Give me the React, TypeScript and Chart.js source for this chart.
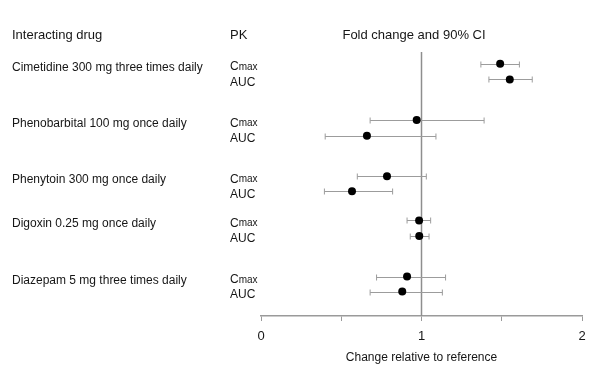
import React, { useEffect, useRef } from 'react';
import { Chart, registerables } from 'chart.js';

Chart.register(...registerables);

const FONT = '"Liberation Sans", Arial, Helvetica, sans-serif';

const drugs = [
  'Cimetidine 300 mg three times daily',
  'Phenobarbital 100 mg once daily',
  'Phenytoin 300 mg once daily',
  'Digoxin 0.25 mg once daily',
  'Diazepam 5 mg three times daily',
];
const pkParams = ['Cmax', 'AUC'];

// Row positions on the (hidden) row axis
const cmaxRow = [0, 3.57, 7.13, 9.94, 13.5];
const aucRow = [0.99, 4.57, 8.08, 10.92, 14.45];

// Fold change and 90% CI
const cmaxRatio = [1.49, 0.97, 0.785, 0.985, 0.91];
const cmaxLow = [1.37, 0.68, 0.6, 0.91, 0.72];
const cmaxHigh = [1.61, 1.39, 1.03, 1.057, 1.15];
const aucRatio = [1.55, 0.66, 0.567, 0.986, 0.88];
const aucLow = [1.42, 0.4, 0.395, 0.93, 0.68];
const aucHigh = [1.69, 1.09, 0.82, 1.047, 1.13];

const xTicks = [0, 0.5, 1, 1.5, 2];
const xTickLabels = ['0', '', '1', '', '2'];
const headers = ['Interacting drug', 'PK', 'Fold change and 90% CI'];
const xTitle = 'Change relative to reference';

const forestPlugin = {
  id: 'forest',
  beforeDatasetsDraw(chart: any) {
    const { ctx, chartArea, scales } = chart;
    const x = scales.x;
    const y = scales.y;
    ctx.save();
    // reference line at 1
    const x1 = x.getPixelForValue(1);
    ctx.strokeStyle = '#8e8e8e';
    ctx.lineWidth = 1.5;
    ctx.beginPath();
    ctx.moveTo(x1, chartArea.top);
    ctx.lineTo(x1, chartArea.bottom);
    ctx.stroke();
    // CI bars
    ctx.strokeStyle = '#9c9c9c';
    ctx.lineWidth = 1;
    const bar = (lo: number, hi: number, row: number) => {
      const py = Math.round(y.getPixelForValue(row)) + 0.5;
      const a = x.getPixelForValue(lo);
      const b = x.getPixelForValue(hi);
      ctx.beginPath();
      ctx.moveTo(a, py);
      ctx.lineTo(b, py);
      ctx.moveTo(a, py - 3);
      ctx.lineTo(a, py + 3);
      ctx.moveTo(b, py - 3);
      ctx.lineTo(b, py + 3);
      ctx.stroke();
    };
    drugs.forEach((_, i) => {
      bar(cmaxLow[i], cmaxHigh[i], cmaxRow[i]);
      bar(aucLow[i], aucHigh[i], aucRow[i]);
    });
    ctx.restore();
  },
  afterDraw(chart: any) {
    const { ctx, scales } = chart;
    const y = scales.y;
    ctx.save();
    ctx.fillStyle = '#161616';
    ctx.textBaseline = 'alphabetic';
    // headers
    ctx.font = `13px ${FONT}`;
    ctx.textAlign = 'left';
    ctx.fillText(headers[0], 12, 38.5);
    ctx.fillText(headers[1], 230, 38.5);
    ctx.textAlign = 'center';
    ctx.fillText(headers[2], 414, 38.5);
    // drug labels and PK labels
    drugs.forEach((d, i) => {
      const yc = y.getPixelForValue(cmaxRow[i]);
      const ya = y.getPixelForValue(aucRow[i]);
      ctx.textAlign = 'left';
      ctx.font = `12px ${FONT}`;
      ctx.fillText(d, 12, yc + 7);
      // Cmax
      const base = yc + 6.5;
      ctx.fillText(pkParams[0].charAt(0), 230, base);
      const w = ctx.measureText(pkParams[0].charAt(0)).width;
      ctx.font = `10px ${FONT}`;
      ctx.fillText(pkParams[0].slice(1), 230 + w, base - 0.5);
      // AUC
      ctx.font = `12px ${FONT}`;
      ctx.fillText(pkParams[1], 230, ya + 6.5);
    });
    ctx.restore();
  },
};

export default function App() {
  const ref = useRef<HTMLCanvasElement | null>(null);
  useEffect(() => {
    if (!ref.current) return;
    const points: { x: number; y: number }[] = [];
    drugs.forEach((_, i) => {
      points.push({ x: cmaxRatio[i], y: cmaxRow[i] });
      points.push({ x: aucRatio[i], y: aucRow[i] });
    });
    const chart = new Chart(ref.current, {
      type: 'scatter',
      data: {
        datasets: [
          {
            data: points,
            backgroundColor: '#000000',
            borderColor: '#000000',
            borderWidth: 0,
            pointRadius: 4,
            pointHoverRadius: 4,
          },
        ],
      },
      options: {
        animation: false,
        responsive: false,
        devicePixelRatio: 1,
        events: [],
        layout: { padding: { left: 261, right: 20, top: 52, bottom: 0 } },
        plugins: {
          legend: { display: false },
          tooltip: { enabled: false },
          title: { display: false },
        },
        scales: {
          x: {
            type: 'linear',
            min: 0,
            max: 2,
            afterBuildTicks: (scale: any) => {
              scale.ticks = xTicks.map((v) => ({ value: v }));
            },
            ticks: {
              autoSkip: false,
              maxRotation: 0,
              padding: 8,
              color: '#161616',
              font: { family: FONT, size: 13 },
              callback: (_v: any, idx: number) => xTickLabels[idx],
            },
            grid: {
              display: true,
              drawOnChartArea: false,
              drawTicks: true,
              tickLength: 5,
              color: '#9a9a9a',
              lineWidth: 1,
            },
            border: { display: true, color: '#9a9a9a', width: 1.5 },
            title: {
              display: true,
              text: xTitle,
              color: '#161616',
              font: { family: FONT, size: 12 },
              padding: { top: -1.8, bottom: 16.8 },
            },
          },
          y: {
            type: 'linear',
            display: false,
            reverse: true,
            min: -0.75,
            max: 16,
          },
        },
      },
      plugins: [forestPlugin],
    });
    return () => chart.destroy();
  }, []);
  return (
    <div style={{ position: 'fixed', left: 0, top: 0, width: 602, height: 382, background: '#fff' }}>
      <canvas ref={ref} width={602} height={382} style={{ width: 602, height: 382, display: 'block' }} />
    </div>
  );
}
